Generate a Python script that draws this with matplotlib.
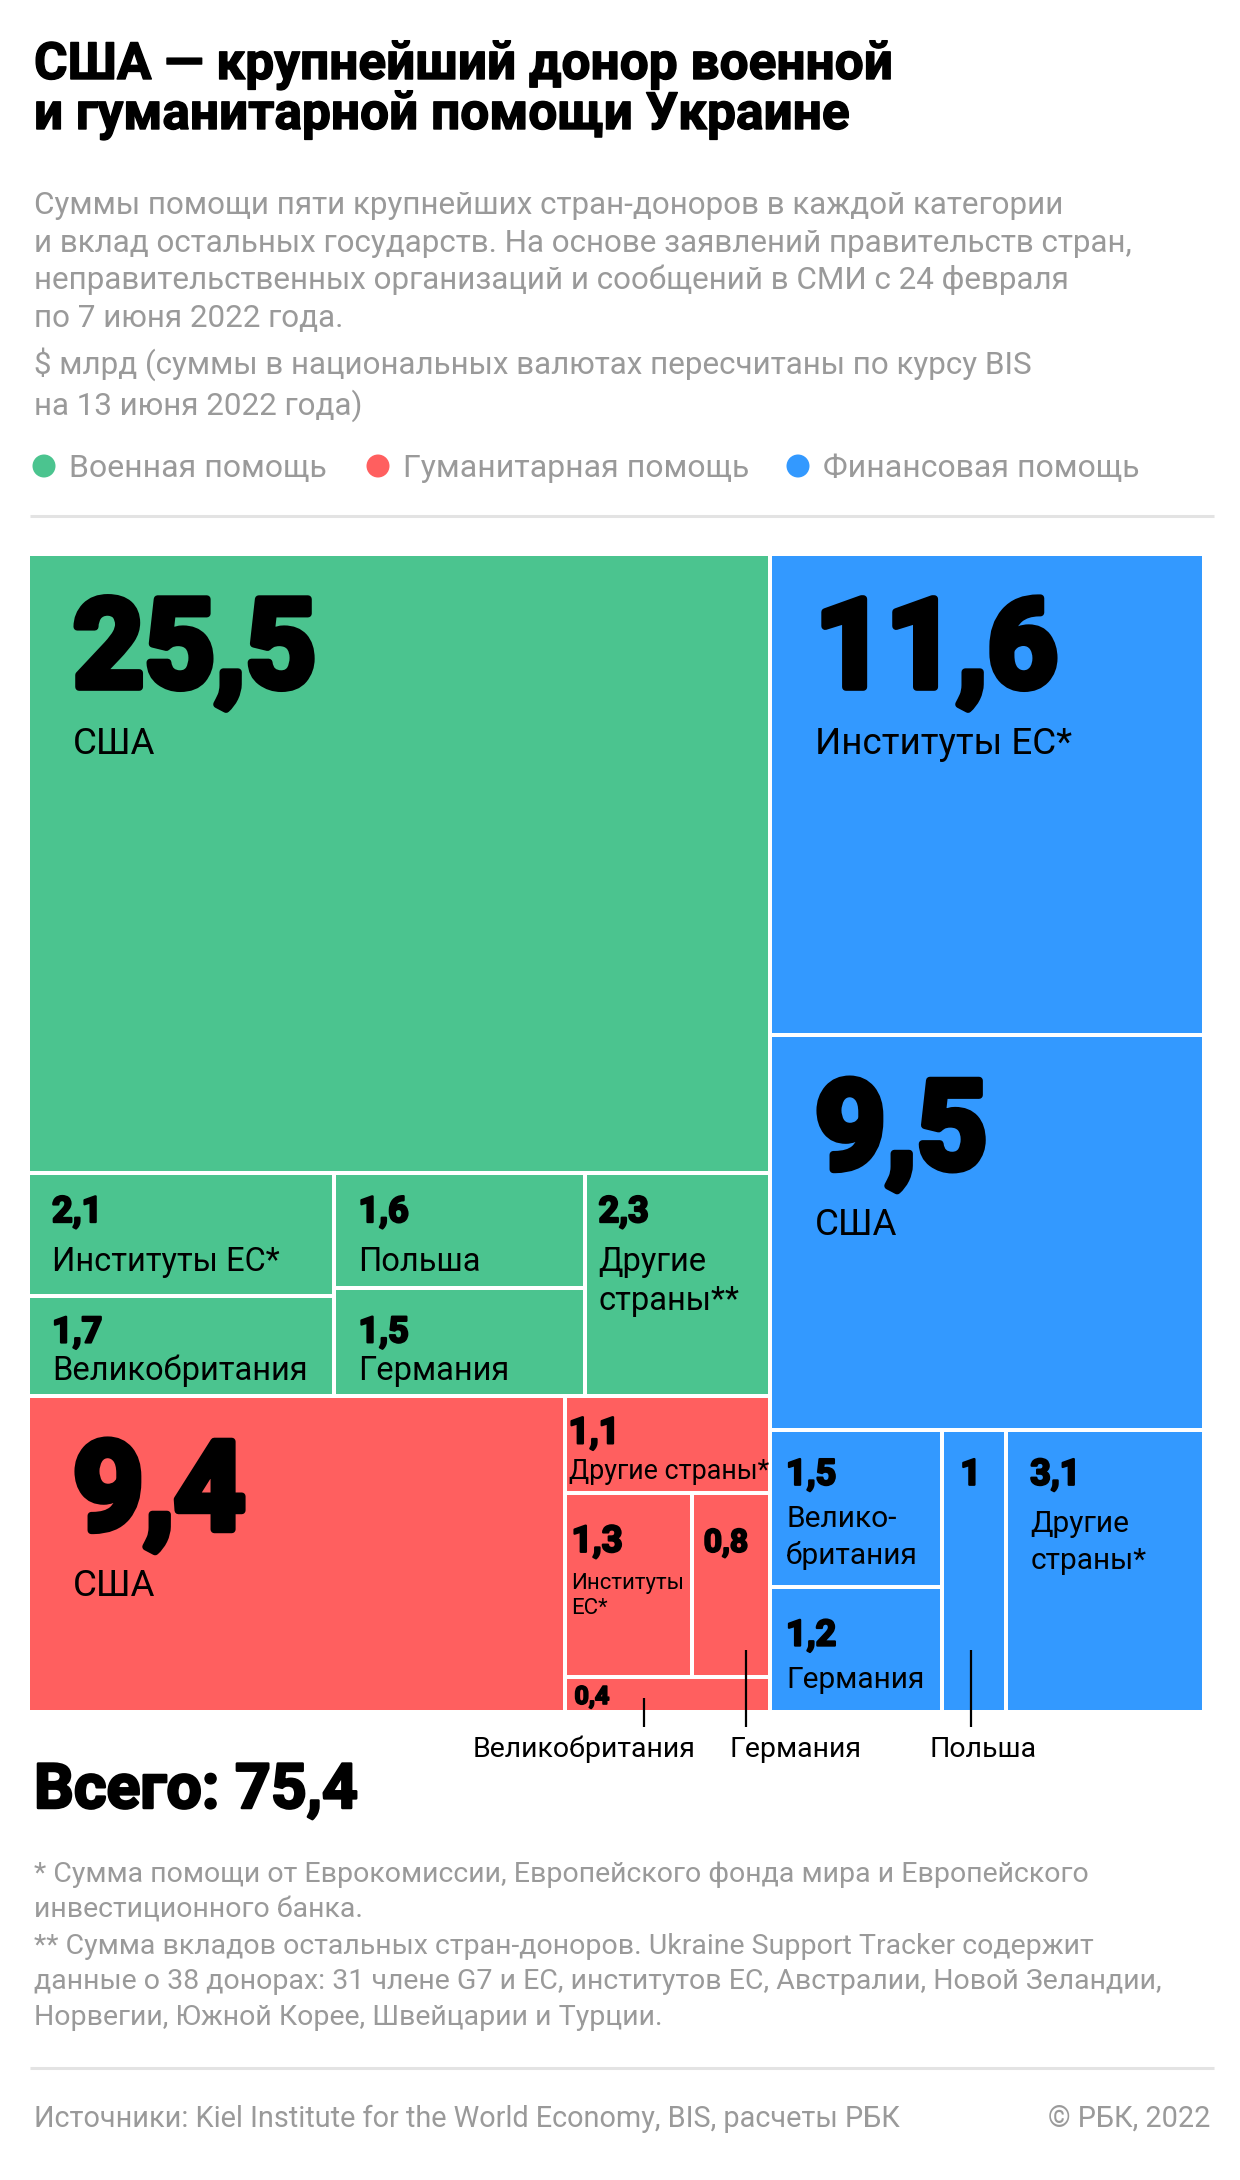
import matplotlib
matplotlib.use("Agg")
import matplotlib.pyplot as plt
from matplotlib.patches import Rectangle, Circle
from matplotlib import patheffects as pe

# ---------------- data ----------------
categories = ["Военная помощь", "Гуманитарная помощь", "Финансовая помощь"]
cat_colors = ["#4BC48F", "#FF5F5F", "#3399FF"]

mil_donors = ["США", "Институты ЕС*", "Великобритания", "Польша", "Германия", "Другие страны**"]
mil_values = [25.5, 2.1, 1.7, 1.6, 1.5, 2.3]
mil_labels = ["США", "Институты ЕС*", "Великобритания", "Польша", "Германия", "Другие\nстраны**"]

hum_donors = ["США", "Другие страны*", "Институты ЕС*", "Германия", "Великобритания"]
hum_values = [9.4, 1.1, 1.3, 0.8, 0.4]
hum_labels = ["США", "Другие страны*", "Институты\nЕС*", "", ""]

fin_donors = ["Институты ЕС*", "США", "Великобритания", "Германия", "Польша", "Другие страны*"]
fin_values = [11.6, 9.5, 1.5, 1.2, 1.0, 3.1]
fin_labels = ["Институты ЕС*", "США", "Велико-\nбритания", "Германия", "", "Другие\nстраны*"]

total_text = "Всего: 75,4"

title_lines = ["США — крупнейший донор военной", "и гуманитарной помощи Украине"]
subtitle_lines = ["Суммы помощи пяти крупнейших стран-доноров в каждой категории",
                  "и вклад остальных государств. На основе заявлений правительств стран,",
                  "неправительственных организаций и сообщений в СМИ с 24 февраля",
                  "по 7 июня 2022 года."]
unit_lines = ["$ млрд (суммы в национальных валютах пересчитаны по курсу BIS",
              "на 13 июня 2022 года)"]
footnote_lines = ["* Сумма помощи от Еврокомиссии, Европейского фонда мира и Европейского",
                  "инвестиционного банка.",
                  "** Сумма вкладов остальных стран-доноров. Ukraine Support Tracker содержит",
                  "данные о 38 донорах: 31 члене G7 и ЕС, институтов ЕС, Австралии, Новой Зеландии,",
                  "Норвегии, Южной Корее, Швейцарии и Турции."]
source_text = "Источники: Kiel Institute for the World Economy, BIS, расчеты РБК"
copyright_text = "© РБК, 2022"

# ---------------- style ----------------
FONT = ["Roboto", "DejaVu Sans"]
plt.rcParams["font.family"] = FONT
GREY = "#9a9a9a"
SEP = "#e3e3e3"

fig = plt.figure(figsize=(12.4, 21.8), dpi=100)
ax = fig.add_axes([0, 0, 1, 1])
ax.set_xlim(0, 1240)
ax.set_ylim(2180, 0)
ax.axis("off")


def heavy(w):
    return [pe.withStroke(linewidth=w, foreground="black")]


def split(box, vals, horizontal):
    x0, y0, x1, y1 = box
    t = float(sum(vals))
    out = []
    pos = x0 if horizontal else y0
    for v in vals:
        if horizontal:
            w = (x1 - x0) * v / t
            out.append((pos, y0, pos + w, y1))
        else:
            h = (y1 - y0) * v / t
            out.append((x0, pos, x1, pos + h))
        pos = out[-1][2] if horizontal else out[-1][3]
    return out


# treemap layout computed from the values
BOX = (28, 554, 1204, 1712)
GAP = 4
mil_t, hum_t, fin_t = sum(mil_values), sum(hum_values), sum(fin_values)
left_col, fin_box = split(BOX, [mil_t + hum_t, fin_t], True)
mil_box, hum_box = split(left_col, [mil_t, hum_t], False)

# military
m_top, m_strip = split(mil_box, [mil_values[0], sum(mil_values[1:])], False)
mA, mB, mC = split(m_strip, [mil_values[1] + mil_values[2], mil_values[3] + mil_values[4], mil_values[5]], True)
mil_rects = [m_top] + split(mA, mil_values[1:3], False) + split(mB, mil_values[3:5], False) + [mC]

# humanitarian
h_us, h_right = split(hum_box, [hum_values[0], sum(hum_values[1:])], True)
h_r1, h_r2, h_r3 = split(h_right, [hum_values[1], hum_values[2] + hum_values[3], hum_values[4]], False)
hum_rects = [h_us, h_r1] + split(h_r2, hum_values[2:4], True) + [h_r3]

# financial
f_1, f_2, f_strip = split(fin_box, [fin_values[0], fin_values[1], sum(fin_values[2:])], False)
fA, fB, fC = split(f_strip, [fin_values[2] + fin_values[3], fin_values[4], fin_values[5]], True)
fin_rects = [f_1, f_2] + split(fA, fin_values[2:4], False) + [fB, fC]

BIG = dict(dx=43, nb=131, ns=89, nw=5.5, lb=198, ls=26.5, lsp=0)
SMALL = dict(dx=22, nb=47, ns=26, nw=1.6, lb=96, ls=23.5, lsp=39)


def sty(base, **kw):
    d = dict(base)
    d.update(kw)
    return d


mil_sty = [BIG, SMALL, sty(SMALL, nb=44, lb=82), SMALL, sty(SMALL, nb=52, lb=90),
           sty(SMALL, dx=12)]
hum_sty = [BIG,
           sty(SMALL, dx=2, nb=45, ns=26.5, lb=81, ls=19.4),
           sty(SMALL, dx=5, nb=57, ns=26.5, lb=94, ls=16, lsp=25),
           sty(SMALL, dx=10, nb=57, ns=23, nw=1.4),
           sty(SMALL, dx=8, nb=25, ns=18, nw=1.3)]
fin_sty = [BIG, BIG,
           sty(SMALL, dx=14, nb=53, lb=95, ls=21.5, lsp=37),
           sty(SMALL, dx=14, nb=57, lb=99, ls=21.5),
           sty(SMALL, dx=16, nb=53),
           sty(SMALL, dx=22, nb=53, lb=100, ls=21.5, lsp=37)]


def fmt(v):
    return ("%g" % v).replace(".", ",")


def draw_group(rects, vals, labels, styles, color):
    out = []
    for r, v, lab, s in zip(rects, vals, labels, styles):
        x0, y0, x1, y1 = r[0] + GAP / 2, r[1] + GAP / 2, r[2] - GAP / 2, r[3] - GAP / 2
        ax.add_patch(Rectangle((x0, y0), x1 - x0, y1 - y0, facecolor=color, edgecolor="none"))
        ax.text(x0 + s["dx"], y0 + s["nb"], fmt(v), fontsize=s["ns"], fontweight="bold",
                color="black", ha="left", va="baseline", path_effects=heavy(s["nw"]))
        if lab:
            for i, line in enumerate(lab.split("\n")):
                ax.text(x0 + s["dx"], y0 + s["lb"] + i * s["lsp"], line, fontsize=s["ls"],
                        color="black", ha="left", va="baseline")
        out.append((x0, y0, x1, y1))
    return out


mil_r = draw_group(mil_rects, mil_values, mil_labels, mil_sty, cat_colors[0])
hum_r = draw_group(hum_rects, hum_values, hum_labels, hum_sty, cat_colors[1])
fin_r = draw_group(fin_rects, fin_values, fin_labels, fin_sty, cat_colors[2])

# leader lines for the small rects
leaders = [(hum_r[4], hum_donors[4], 0.386, 1698, 473),
           (hum_r[3], hum_donors[3], 0.71, 1650, 729),
           (fin_r[4], fin_donors[4], 0.45, 1650, 929)]
for r, name, frac, ystart, lx in leaders:
    lxp = r[0] + frac * (r[2] - r[0])
    ax.plot([lxp, lxp], [ystart, 1727], color="black", lw=1.6, solid_capstyle="butt")
    ax.text(lx, 1757, name, fontsize=20.5, color="black", ha="left", va="baseline")

# ---------------- header ----------------
for i, line in enumerate(title_lines):
    ax.text(34, 79 + i * 50, line, fontsize=37, fontweight="bold", color="black",
            ha="left", va="baseline", path_effects=heavy(1.0))
for i, line in enumerate(subtitle_lines):
    ax.text(34, 214 + i * 37.5, line, fontsize=22.6, color=GREY, ha="left", va="baseline")
for i, line in enumerate(unit_lines):
    ax.text(34, 374 + i * 41, line, fontsize=22.6, color=GREY, ha="left", va="baseline")

legend_x = [(44, 69), (378, 403), (798, 823)]
for (cx, tx), name, c in zip(legend_x, categories, cat_colors):
    ax.add_patch(Circle((cx, 466), 11.5, facecolor=c, edgecolor="none"))
    ax.text(tx, 477, name, fontsize=23, color=GREY, ha="left", va="baseline")

ax.plot([30, 1214], [516, 516], color=SEP, lw=2.2, solid_capstyle="butt")

# ---------------- footer ----------------
ax.text(34, 1808, total_text, fontsize=45, fontweight="bold", color="black",
        ha="left", va="baseline", path_effects=heavy(1.8))
for i, line in enumerate(footnote_lines):
    ax.text(34, 1882 + i * 35.8, line, fontsize=20.5, color=GREY, ha="left", va="baseline")
ax.plot([30, 1214], [2068, 2068], color=SEP, lw=2.2, solid_capstyle="butt")
ax.text(34, 2127, source_text, fontsize=20.8, color=GREY, ha="left", va="baseline")
ax.text(1210, 2127, copyright_text, fontsize=20.8, color=GREY, ha="right", va="baseline")

fig.savefig("out.png", dpi=100, facecolor="white")
